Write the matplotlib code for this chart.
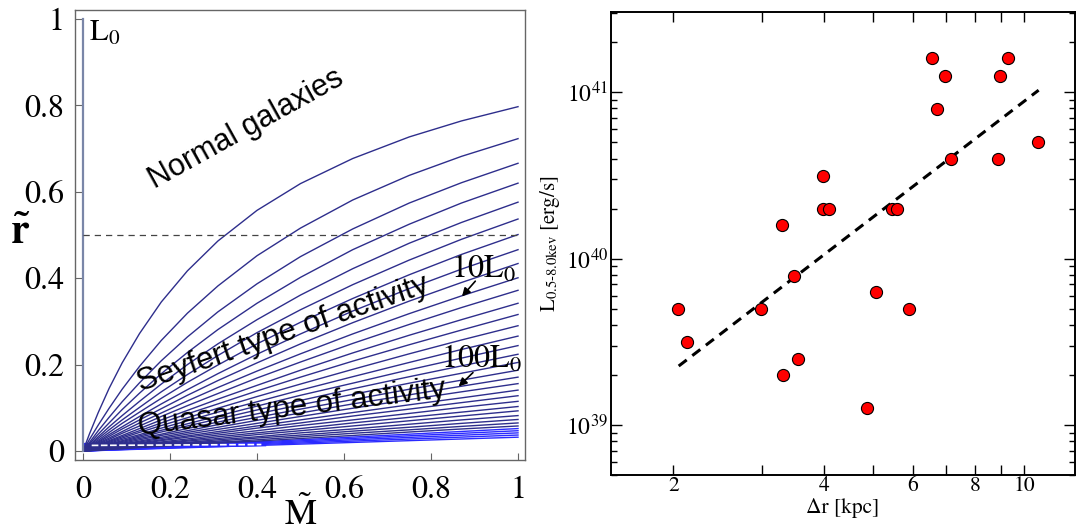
import matplotlib
matplotlib.use('Agg')
import matplotlib.pyplot as plt
from matplotlib.ticker import FixedLocator, NullLocator, LogLocator, NullFormatter

plt.rcParams['font.family'] = ['STIXGeneral', 'DejaVu Serif']
plt.rcParams['mathtext.fontset'] = 'stix'

# ---- left panel: r~ versus M~ for a family of luminosities ----
m_grid = [0, 0.015, 0.035, 0.06, 0.09, 0.13, 0.18, 0.24, 0.31, 0.4, 0.5, 0.62, 0.75, 0.87, 1.0]
r_curves = [
    [0, 0.040, 0.089, 0.145, 0.204, 0.272, 0.345, 0.417, 0.486, 0.557, 0.619, 0.677, 0.727, 0.764, 0.797],
    [0, 0.027, 0.060, 0.099, 0.143, 0.196, 0.256, 0.319, 0.382, 0.452, 0.516, 0.581, 0.638, 0.682, 0.723],
    [0, 0.020, 0.047, 0.078, 0.114, 0.158, 0.209, 0.264, 0.322, 0.387, 0.450, 0.514, 0.574, 0.621, 0.666],
    [0, 0.017, 0.039, 0.065, 0.096, 0.134, 0.179, 0.228, 0.281, 0.342, 0.402, 0.466, 0.525, 0.574, 0.620],
    [0, 0.014, 0.033, 0.056, 0.082, 0.115, 0.155, 0.200, 0.248, 0.304, 0.361, 0.422, 0.481, 0.529, 0.576],
    [0, 0.012, 0.029, 0.049, 0.072, 0.101, 0.137, 0.177, 0.221, 0.274, 0.327, 0.385, 0.442, 0.490, 0.537],
    [0, 0.011, 0.025, 0.043, 0.064, 0.090, 0.122, 0.159, 0.199, 0.248, 0.298, 0.353, 0.408, 0.455, 0.501],
    [0, 0.010, 0.022, 0.038, 0.056, 0.080, 0.109, 0.142, 0.179, 0.224, 0.271, 0.324, 0.376, 0.421, 0.466],
    [0, 0.009, 0.020, 0.034, 0.051, 0.072, 0.098, 0.129, 0.163, 0.204, 0.248, 0.297, 0.347, 0.390, 0.434],
    [0, 0.008, 0.018, 0.030, 0.045, 0.065, 0.088, 0.116, 0.147, 0.185, 0.225, 0.271, 0.318, 0.359, 0.401],
    [0, 0.007, 0.016, 0.027, 0.041, 0.058, 0.080, 0.105, 0.133, 0.169, 0.206, 0.249, 0.293, 0.332, 0.372],
    [0, 0.006, 0.014, 0.024, 0.036, 0.052, 0.072, 0.094, 0.120, 0.152, 0.187, 0.227, 0.268, 0.304, 0.342],
    [0, 0.006, 0.013, 0.022, 0.033, 0.047, 0.065, 0.086, 0.109, 0.139, 0.171, 0.208, 0.246, 0.280, 0.316],
    [0, 0.005, 0.012, 0.020, 0.030, 0.043, 0.059, 0.077, 0.099, 0.126, 0.155, 0.189, 0.225, 0.257, 0.290],
    [0, 0.005, 0.011, 0.018, 0.027, 0.038, 0.053, 0.070, 0.090, 0.114, 0.141, 0.172, 0.205, 0.235, 0.266],
    [0, 0.004, 0.010, 0.016, 0.024, 0.035, 0.048, 0.063, 0.081, 0.104, 0.129, 0.157, 0.188, 0.215, 0.244],
    [0, 0.004, 0.009, 0.015, 0.022, 0.032, 0.044, 0.058, 0.074, 0.095, 0.117, 0.144, 0.172, 0.197, 0.224],
    [0, 0.003, 0.008, 0.013, 0.020, 0.029, 0.039, 0.052, 0.067, 0.086, 0.107, 0.131, 0.157, 0.180, 0.205],
    [0, 0.003, 0.007, 0.012, 0.018, 0.026, 0.036, 0.047, 0.061, 0.078, 0.097, 0.119, 0.143, 0.164, 0.187],
    [0, 0.003, 0.006, 0.011, 0.016, 0.023, 0.032, 0.043, 0.055, 0.071, 0.088, 0.109, 0.130, 0.150, 0.171],
    [0, 0.002, 0.006, 0.010, 0.015, 0.021, 0.029, 0.039, 0.050, 0.064, 0.080, 0.099, 0.119, 0.137, 0.156],
    [0, 0.002, 0.005, 0.009, 0.013, 0.019, 0.026, 0.035, 0.045, 0.058, 0.072, 0.089, 0.107, 0.123, 0.141],
    [0, 0.002, 0.005, 0.008, 0.012, 0.017, 0.024, 0.032, 0.041, 0.053, 0.065, 0.081, 0.097, 0.112, 0.128],
    [0, 0.002, 0.004, 0.007, 0.011, 0.015, 0.021, 0.028, 0.037, 0.047, 0.059, 0.072, 0.087, 0.101, 0.115],
    [0, 0.002, 0.004, 0.006, 0.010, 0.014, 0.019, 0.025, 0.033, 0.042, 0.052, 0.065, 0.078, 0.090, 0.103],
    [0, 0.001, 0.003, 0.006, 0.009, 0.012, 0.017, 0.023, 0.029, 0.038, 0.047, 0.058, 0.070, 0.081, 0.093],
    [0, 0.001, 0.003, 0.005, 0.008, 0.011, 0.015, 0.020, 0.026, 0.033, 0.042, 0.051, 0.062, 0.072, 0.082],
    [0, 0.001, 0.003, 0.005, 0.007, 0.010, 0.013, 0.018, 0.023, 0.030, 0.037, 0.046, 0.055, 0.064, 0.073],
    [0, 0.001, 0.002, 0.004, 0.006, 0.009, 0.012, 0.016, 0.020, 0.026, 0.033, 0.041, 0.049, 0.057, 0.065],
    [0, 0.001, 0.002, 0.004, 0.005, 0.008, 0.011, 0.014, 0.018, 0.023, 0.029, 0.036, 0.044, 0.051, 0.058],
]
# densest (highest luminosity) curves near the bottom
extra_m = [0, 1.0]
extra_end = [0.052, 0.047, 0.042, 0.037, 0.032]
band_m = [0.0, 0.42]
band_lo = [0.004, 0.012]
band_hi = [0.020, 0.025]
gap_m = [0.02, 0.41]
gap_r = [0.013, 0.015]

l0_m = [0, 0]
l0_r = [0, 1]
crit_m = [0, 1]
crit_r = [0.5, 0.5]

m_ticks = [0, 0.2, 0.4, 0.6, 0.8, 1.0]
m_tick_labels = ['0', '0.2', '0.4', '0.6', '0.8', '1']

# ---- right panel: luminosity vs separation ----
dr_kpc = [2.04, 2.13, 2.99, 3.30, 3.31, 3.48, 3.55, 3.97, 3.98, 4.08, 4.86, 5.08,
          5.47, 5.59, 5.89, 6.56, 6.72, 6.96, 7.14, 8.89, 8.96, 9.31, 10.68]
lum = [5.0e39, 3.16e39, 5.0e39, 1.59e40, 2.0e39, 7.9e39, 2.5e39, 3.16e40, 2.0e40, 2.0e40,
       1.26e39, 6.3e39, 2.0e40, 2.0e40, 5.0e39, 1.6e41, 7.9e40, 1.26e41, 4.0e40, 4.0e40,
       1.26e41, 1.6e41, 5.0e40]
fit_x = [2.05, 10.7]
fit_y = [2.26e39, 1.03e41]
dr_ticks = [2, 3, 4, 5, 6, 7, 8, 9, 10]
dr_tick_labels = ['2', '', '4', '', '6', '', '8', '', '10']

fig = plt.figure(figsize=(10.76, 5.31), dpi=100)

# left
ax1 = fig.add_axes([0.0697, 0.1337, 0.4182, 0.8475])
navy = '#2e2e8c'
ax1.fill_between(band_m, band_lo, band_hi, color='#2a2aff', lw=0)
for e in extra_end:
    ax1.plot(extra_m, [0, e], color='#2a2aff', lw=1.0)
for r in r_curves:
    ax1.plot(m_grid, r, color=navy, lw=1.0)
ax1.plot(gap_m, gap_r, color='white', lw=1.2, ls=(0, (4, 1.5)))
ax1.plot(l0_m, l0_r, color='#7a86a8', lw=1.6)
ax1.plot(crit_m, crit_r, color='#444444', lw=0.9, ls=(0, (5, 4)))

ax1.set_xlim(-0.0184, 1.016)
ax1.set_ylim(-0.0208, 1.0208)
ax1.set_xticks(m_ticks)
ax1.set_xticklabels(m_tick_labels)
ax1.set_yticks(m_ticks)
ax1.set_yticklabels(m_tick_labels)
ax1.tick_params(direction='in', length=5, width=0.8, color='#666666', labelsize=23)
ax1.tick_params(axis='x', pad=11)
ax1.tick_params(axis='y', pad=8)
for s in ax1.spines.values():
    s.set_color('#666666')
    s.set_linewidth(1.0)

sans = 'Liberation Sans'
ax1.text(0.013, 0.998, r'L$_\mathregular{0}$', ha='left', va='top', fontsize=22)
ax1.text(0.375, 0.745, 'Normal galaxies', family=sans, fontsize=22, rotation=29,
         ha='center', va='center', rotation_mode='anchor')
ax1.text(0.46, 0.27, 'Seyfert type of activity', family=sans, fontsize=22.5, rotation=19,
         ha='center', va='center', rotation_mode='anchor')
ax1.text(0.48, 0.10, 'Quasar type of activity', family=sans, fontsize=22.5, rotation=7,
         ha='center', va='center', rotation_mode='anchor')
ax1.text(0.92, 0.42, r'10L$_\mathregular{0}$', ha='center', va='center', fontsize=23)
ax1.text(0.915, 0.212, r'100L$_\mathregular{0}$', ha='center', va='center', fontsize=23)
ax1.annotate('', xy=(0.867, 0.353), xytext=(0.906, 0.398),
             arrowprops=dict(arrowstyle='-|>', color='black', lw=1.2, mutation_scale=12))
ax1.annotate('', xy=(0.859, 0.145), xytext=(0.901, 0.186),
             arrowprops=dict(arrowstyle='-|>', color='black', lw=1.2, mutation_scale=12))

fig.text(0.0186, 0.559, r'$\mathbf{\tilde{r}}$', fontsize=30, ha='center', va='center')
fig.text(0.2797, 0.012, r'$\tilde{\mathrm{M}}$', fontsize=26, ha='center', va='baseline')

# right
ax2 = fig.add_axes([0.5678, 0.1055, 0.4312, 0.8714])
ax2.set_xscale('log')
ax2.set_yscale('log')
ax2.plot(fit_x, fit_y, color='black', lw=2.2, ls=(0, (3.3, 2.3)), zorder=2)
ax2.scatter(dr_kpc, lum, s=76, c='#ff0000', edgecolors='black', linewidths=0.8, zorder=3)
ax2.set_xlim(1.502, 12.64)
ax2.set_ylim(5.0e38, 3.03e41)
ax2.xaxis.set_major_locator(FixedLocator(dr_ticks))
ax2.xaxis.set_minor_locator(NullLocator())
ax2.set_xticklabels(dr_tick_labels)
ax2.yaxis.set_minor_locator(LogLocator(base=10, subs=range(2, 10)))
ax2.yaxis.set_minor_formatter(NullFormatter())
ax2.tick_params(which='both', direction='in', top=True, right=True, width=1.0,
                labelsize=15.5)
ax2.tick_params(axis='x', which='major', length=7.5, pad=1)
ax2.tick_params(axis='y', which='major', length=8, pad=2, labelsize=17)
ax2.tick_params(axis='y', which='minor', length=4.5)
for s in ax2.spines.values():
    s.set_linewidth(1.4)
ax2.set_xlabel('Δr [kpc]', fontsize=15.5, labelpad=1)
ax2.set_ylabel('L$_{\\mathregular{0.5\u20108.0kev}}$ [erg/s]', fontsize=15, labelpad=3)

fig.savefig('out.png', dpi=100)
